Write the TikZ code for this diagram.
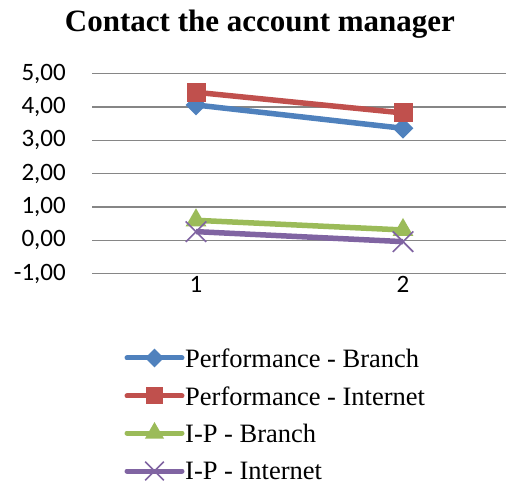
\documentclass[tikz,border=0pt]{standalone}
\usepackage{fontspec}
\setmainfont{Liberation Serif}
\newfontfamily\axisfont{Carlito}
\usetikzlibrary{shapes.geometric,shapes.misc}
\definecolor{cblue}{HTML}{4F81BD}
\definecolor{cred}{HTML}{C0504D}
\definecolor{cgreen}{HTML}{9BBB59}
\definecolor{cpurple}{HTML}{8064A2}
\definecolor{cgrid}{HTML}{868686}
\begin{document}
\begin{tikzpicture}[x=1pt,y=-1pt,
  grid/.style={draw=cgrid,line width=1.5pt},
  ylab/.style={anchor=east,font=\axisfont\fontsize{25}{25}\selectfont,inner sep=0pt},
  xlab/.style={anchor=north,font=\axisfont\fontsize{25}{25}\selectfont,inner sep=0pt},
  series/.style={line width=5.5pt},
  mdia/.style={diamond,fill=cblue,inner sep=0pt,minimum width=21pt,minimum height=21pt},
  msq/.style={rectangle,fill=cred,inner sep=0pt,minimum size=19pt},
  mtri/.style={regular polygon,regular polygon sides=3,fill=cgreen,inner sep=0pt,minimum size=24pt},
  mx/.style={cross out,draw=cpurple,line width=1.6pt,inner sep=0pt,minimum size=19pt},
  legtext/.style={anchor=west,font=\fontsize{26.5}{26.5}\selectfont,inner sep=0pt}]
\useasboundingbox (0,0) rectangle (507,484);
% title
\node[font=\bfseries\fontsize{31}{31}\selectfont,inner sep=0pt] (title) at (260,24) {Contact the account manager};
% grid and y labels
\foreach \v/\t [count=\i] in {5/5{,}00,4/4{,}00,3/3{,}00,2/2{,}00,1/1{,}00,0/0{,}00,-1/-1{,}00}{
  \coordinate (gl\i) at (92,{240.3-33.33*\v});
  \coordinate (gr\i) at (506,{240.3-33.33*\v});
  \draw[grid] (gl\i) -- (gr\i);
  \node[ylab] (yl\i) at (66,{240.3-33.33*\v}) {\t};
}
\node[xlab] (x1) at (196,276) {1};
\node[xlab] (x2) at (403,276) {2};
% data points
\coordinate (b1) at (196,{240.3-33.33*4.06});
\coordinate (b2) at (403,{240.3-33.33*3.36});
\coordinate (r1) at (196,{240.3-33.33*4.44});
\coordinate (r2) at (403,{240.3-33.33*3.82});
\coordinate (g1) at (196,{240.3-33.33*0.60});
\coordinate (g2) at (403,{240.3-33.33*0.31});
\coordinate (p1) at (196,{240.3-33.33*0.26});
\coordinate (p2) at (403,{240.3-33.33*-0.04});
% series
\draw[series,cblue] (b1) -- (b2);
\node[mdia] (bm1) at (b1) {};
\node[mdia] (bm2) at (b2) {};
\draw[series,cred] (r1) -- (r2);
\node[msq] (rm1) at (r1) {};
\node[msq] (rm2) at (r2) {};
\draw[series,cgreen] (g1) -- (g2);
\node[mtri] (gm1) at (g1) {};
\node[mtri] (gm2) at (g2) {};
\draw[series,cpurple] (p1) -- (p2);
\node[mx] (pm1) at (p1) {};
\node[mx] (pm2) at (p2) {};
% legend
\foreach \n/\yy/\c in {1/358/cblue,2/396/cred,3/433/cgreen,4/471/cpurple}{
  \coordinate (la\n) at (127,\yy);
  \coordinate (lb\n) at (182,\yy);
  \coordinate (lc\n) at (154.5,\yy);
  \draw[line width=5pt,line cap=round,\c] (la\n) -- (lb\n);
}
\node[mdia,minimum width=19pt,minimum height=19pt] (lm1) at (lc1) {};
\node[msq,minimum size=17pt] (lm2) at (lc2) {};
\node[mtri,minimum size=22pt] (lm3) at (lc3) {};
\node[mx,minimum size=17pt] (lm4) at (lc4) {};
\node[legtext] (lt1) at (185,358) {Performance - Branch};
\node[legtext] (lt2) at (185,396) {Performance - Internet};
\node[legtext] (lt3) at (185,433) {I-P - Branch};
\node[legtext] (lt4) at (185,471) {I-P - Internet};
\end{tikzpicture}
\end{document}
